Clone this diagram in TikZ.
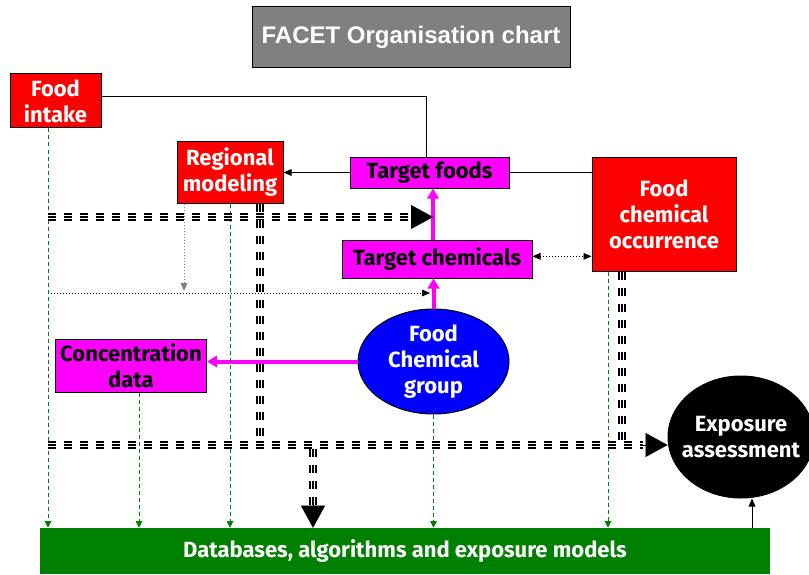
\documentclass[tikz,border=0pt]{standalone}
\usepackage{fontspec}
\setmainfont{Liberation Sans}
\newfontfamily\comic{Fira Sans}
\usetikzlibrary{arrows.meta,shapes.geometric,calc}
\definecolor{cred}{HTML}{FF0000}
\definecolor{cmag}{HTML}{FF00FF}
\definecolor{cblue}{HTML}{0000FF}
\definecolor{cgreen}{HTML}{008000}
\definecolor{cgray}{HTML}{808080}
\begin{document}
\begin{tikzpicture}[x=0.75pt,y=-0.75pt,
  txt/.style={inner sep=0pt, align=center, font=\comic\bfseries\fontsize{16.5}{19.5}\selectfont},
  box/.style={txt, draw=black, line width=0.75pt},
  redbox/.style={box, fill=cred, text=white},
  magbox/.style={box, fill=cmag, text=black},
  oval/.style={ellipse, draw=black, line width=0.75pt, inner sep=0pt},
  titlebox/.style={draw=black, line width=0.75pt, fill=cgray, text=white, inner sep=0pt,
    font=\bfseries\fontsize{18}{21}\selectfont},
  thinline/.style={draw=black, line width=0.75pt},
  tip/.style={-{Triangle[length=6pt,width=5pt]}},
  magarrow/.style={draw=cmag, line width=3pt, -{Triangle[length=7.5pt,width=8.5pt]}},
  dotline/.style={line width=0.6pt, dash pattern=on 0.75pt off 1.5pt},
  greenarrow/.style={draw=cgreen, line width=0.75pt, dash pattern=on 3pt off 2.25pt,
    -{Triangle[length=5pt,width=5pt]}},
  tripdash/.style={draw=black, line width=6pt, dash pattern=on 6.25pt off 5.75pt,
    postaction={draw=white, line width=0.75pt, double=black, double distance=1.5pt,
      dash pattern=on 6.25pt off 5.75pt}},
  bigtip/.style={draw=black, fill=black, line width=0.1pt, -{Triangle[length=16.5pt,width=18pt]}}
]
\useasboundingbox (0,0) rectangle (809,574);

% nodes
\node[titlebox, minimum width=238.5pt, minimum height=45.75pt] (title) at (411,37) {FACET Organisation chart};
\node[redbox, minimum width=68.25pt, minimum height=40.5pt] (fi) at (55.5,101) {Food\\intake};
\node[redbox, minimum width=79.5pt, minimum height=45.75pt] (rm) at (230,172.5) {Regional\\modeling};
\node[magbox, minimum width=119.25pt, minimum height=23.25pt] (tf) at (429.5,172.5) {Target foods};
\node[redbox, minimum width=108pt, minimum height=85.5pt] (fco) at (664,214) {Food\\chemical\\occurrence};
\node[magbox, minimum width=142.5pt, minimum height=28.5pt] (tc) at (437,259) {Target chemicals};
\node[oval, fill=cblue, minimum width=113.25pt, minimum height=78.75pt] (fcg) at (433.5,361.5) {};
\node[txt, text=white] (fcgt) at (fcg.center) {Food\\Chemical\\group};
\node[magbox, minimum width=113.25pt, minimum height=39.75pt] (cd) at (131,365.5) {Concentration\\data};
\node[oval, fill=black, minimum width=109.5pt, minimum height=91.5pt] (ea) at (741,437) {};
\node[txt, text=white] (eat) at (ea.center) {Exposure\\assessment};
\node[txt, fill=cgreen, text=white, minimum width=547.5pt, minimum height=34.5pt] (db) at (405,551)
  {Databases, algorithms and exposure models};

% helper coordinates
\coordinate (mx) at (433,0);
\coordinate (x1) at (48,0);
\coordinate (x2) at (139,0);
\coordinate (x5) at (608,0);
\coordinate (x7) at (752,0);
\coordinate (dv) at (184,291);
\coordinate (dl) at (48,293);
\coordinate (dr) at (430,293);
\coordinate (h1s) at (48,217);
\coordinate (h1e) at (411,217);
\coordinate (v1) at (260,441);
\coordinate (v2) at (622,441);
\coordinate (h2s) at (48,445);
\coordinate (h2e) at (643,445);
\coordinate (v3s) at (313,449);
\coordinate (v3e) at (313,505);

% thin black connectors
\draw[thinline] ([yshift=3pt]fi.east) -| ([xshift=-2.6pt]tf.north);
\draw[thinline, tip] (tf.west) -- (rm.east);
\draw[thinline] (tf.east) -- (tf.east -| fco.west);
\draw[thinline, tip] (x7 |- db.north) -- (x7 |- ea.south);

% dotted connectors
\draw[dotline, {Triangle[length=6pt,width=5pt]}-{Triangle[length=6pt,width=5pt]}] ([yshift=2pt]tc.east) -- ([yshift=2pt]tc.east -| fco.west);
\draw[dotline, draw=gray, -{Triangle[length=6pt,width=5pt]}] (rm.south -| dv) -- (dv);
\draw[dotline, -{Triangle[length=6pt,width=5pt]}] (dl) -- (dr);

% magenta connectors
\draw[magarrow] (tc.north -| mx) -- (tf.south -| mx);
\draw[magarrow] (fcg.north) -- (fcg.north |- tc.south);
\draw[magarrow] (fcg.west) -- (fcg.west -| cd.east);

% green dashed connectors
\draw[greenarrow] (x1 |- fi.south) -- (x1 |- db.north);
\draw[greenarrow] (x2 |- cd.south) -- (x2 |- db.north);
\draw[greenarrow] (rm.south) -- (rm.south |- db.north);
\draw[greenarrow] (fcg.south) -- (fcg.south |- db.north);
\draw[greenarrow] (x5 |- fco.south) -- (x5 |- db.north);

% triple dashed connectors
\draw[tripdash] (h1s) -- (h1e);
\draw[bigtip] (h1e) -- (mx |- h1e);
\draw[tripdash] (rm.south -| v1) -- (v1);
\draw[tripdash] (fco.south -| v2) -- (v2);
\draw[tripdash] (h2s) -- (h2e);
\draw[bigtip] (h2e) -- (ea.west |- h2e);
\draw[tripdash] (v3s) -- (v3e);
\draw[bigtip] (v3e) -- (v3e |- db.north);
\end{tikzpicture}
\end{document}
